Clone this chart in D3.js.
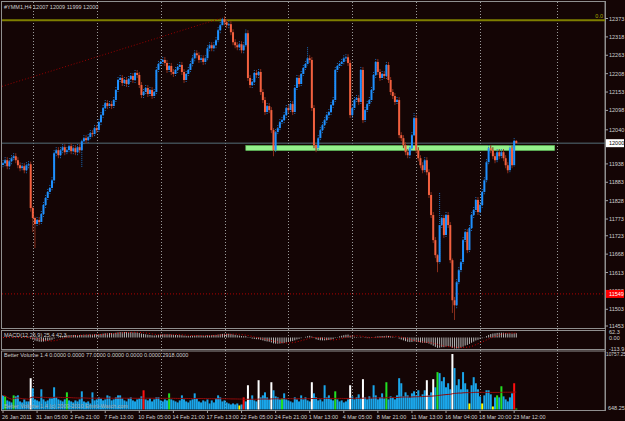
<!DOCTYPE html>
<html>
<head>
<meta charset="utf-8">
<script src="https://cdn.jsdelivr.net/npm/d3@7"></script>
<style>
  body { margin: 0; background: #140505; }
  svg { display: block; }
</style>
</head>
<body>
<script>
// H4 closes, #YMM1, 26 Jan 2011 -> 23 Mar 2011
const closes = [
  11940,11949,11931,11946,11955,11961,11949,11934,11925,11931,
  11919,11934,11937,11806,11776,11758,11770,11764,11788,11815,
  11836,11854,11866,11889,11970,11979,11964,11979,11988,11973,
  11979,11991,11976,11985,11973,11988,11979,12006,12015,12009,
  12018,12030,12027,12045,12039,12063,12084,12105,12120,12111,
  12117,12111,12129,12159,12189,12195,12180,12189,12177,12192,
  12201,12189,12210,12204,12174,12144,12153,12165,12147,12159,
  12141,12153,12219,12237,12243,12249,12240,12219,12231,12213,
  12207,12219,12228,12234,12213,12189,12207,12219,12237,12254,
  12269,12263,12249,12254,12243,12254,12284,12293,12284,12293,
  12308,12338,12353,12371,12362,12353,12356,12332,12302,12293,
  12287,12296,12278,12293,12329,12195,12174,12183,12210,12204,
  12213,12153,12129,12093,12111,12099,12039,11979,12033,12045,
  12063,12069,12084,12105,12099,12117,12093,12165,12195,12177,
  12207,12225,12237,12254,12249,12105,11994,11985,12015,12039,
  12054,12069,12084,12093,12114,12129,12219,12231,12237,12243,
  12254,12257,12240,12084,12105,12129,12135,12123,12219,12069,
  12099,12117,12129,12159,12204,12243,12213,12195,12207,12201,
  12234,12189,12153,12141,12123,12129,12024,12015,11994,11973,
  11964,11985,12024,12075,11979,11955,11934,11919,11949,11913,
  11845,11785,11710,11665,11644,11755,11776,11725,11785,11755,
  11650,11530,11515,11584,11620,11644,11710,11734,11680,11746,
  11785,11800,11830,11794,11815,11854,11889,11943,11985,11979,
  11961,11949,11973,11961,11973,11955,11934,11919,11985,11934,
  12007,12000
];
const firstOpen = 11935;

// bars whose wicks stick out: [bar, high, low]
const wicks = [
  [13, 11945, 11795], [14, 11810, 11734], [15, 11780, 11686], [37, 12010, 11928],
  [103, 12375, 12350], [114, 12340, 12288], [127, 12045, 11961], [143, 12287, 12232],
  [147, 11998, 11973], [193, 12090, 12018], [204, 11668, 11614], [205, 11851, 11640],
  [211, 11655, 11492], [212, 11540, 11471], [240, 12015, 11930], [241, 12009, 11999]
];

const volumes = [
  3225,3040,2305,2120,1935,3225,3040,3225,2120,1935,
  2490,2120,2120,6350,4510,2490,2305,2120,4330,2490,
  2120,2305,2670,2670,4695,2855,2490,2305,2120,2490,
  3775,2305,2120,1935,2305,2120,2490,3960,2120,1935,
  2120,1750,3775,2305,2490,2855,2670,2305,2490,3225,
  3040,2305,2490,2855,3225,3225,2670,2305,2120,2670,
  2855,2305,2120,2490,2670,3040,4145,2490,2305,2670,
  2120,2490,2855,2855,2305,2120,2490,2305,3590,2490,
  2305,2120,1935,2305,3225,2490,2120,1935,2305,2490,
  3590,2670,2120,1935,2305,2120,2490,1750,2305,1935,
  2670,3225,2855,2120,2305,1935,1750,1570,1750,1570,
  1750,1385,1570,2855,2120,5065,2490,3225,2305,2120,
  5985,2855,3225,3775,2855,2490,5615,4145,3040,2855,
  2490,2670,3590,2490,2305,2120,1935,2855,2490,2120,
  3225,2490,2855,2305,2120,5615,3590,2855,2305,2490,
  2120,5065,2855,3225,2490,2305,3960,2490,2120,2305,
  1935,2120,2490,5065,3040,2490,2855,3410,2670,6170,
  2855,2490,3040,2670,5065,3225,2490,2855,3590,2670,
  5615,2490,3040,2855,2490,3225,6350,5430,3040,3775,
  3225,2855,3590,3960,3225,4145,3040,3410,4145,5985,
  3225,3775,6170,4695,7455,7270,5800,6535,4695,5430,
  4330,10755,8190,5065,6170,4330,7455,5430,4330,1750,
  5065,6535,5430,4330,3040,1750,3225,4145,4145,3410,
  1200,2855,3225,2855,4880,3040,2490,2120,2855,3590,
  5430,830
];
// Better Volume colouring of the non-default bars
const volGreen = [1, 5, 30, 78, 131, 156, 180, 204, 232, 234, 241];
const volWhite = [13, 115, 120, 126, 145, 163, 169, 199, 202, 211];
const volRed = [66, 113, 240];
const volYellow = [111, 219, 225, 230];

const timeLabels = ["26 Jan 2011", "31 Jan 05:00", "2 Feb 21:00", "7 Feb 13:00", "10 Feb 05:00",
  "14 Feb 21:00", "17 Feb 13:00", "22 Feb 05:00", "24 Feb 21:00", "1 Mar 13:00", "4 Mar 05:00",
  "8 Mar 21:00", "11 Mar 13:00", "16 Mar 04:00", "18 Mar 20:00", "23 Mar 12:00"];
const timeLabelBars = [0, 16, 32, 48, 64, 80, 96, 112, 128, 144, 160, 176, 192, 208, 224, 240];
const gridBars = [14, 44, 74, 104, 134, 164, 194, 224, 260];
const priceTicks = [12373, 12318, 12263, 12208, 12153, 12098, 12040, 11938, 11883, 11828,
  11773, 11723, 11668, 11613, 11558, 11503, 11453];

const fibLevel = 12368;
const fibLine = [[-1, 12170], [103, 12375]];
const zone = { from: 114, to: 259, top: 11993, bottom: 11978 };
const alertLevel = 11549;
const lastPrice = 12000;

const macdTicks = [["62.3", 62.3], ["0.00", 0], ["-113.9", -113.9]];
const volTicks = ["10757.25", "648.25"];

// ---------------------------------------------------------------
const W = 625, H = 421;
const font = "'Liberation Sans', Arial, sans-serif";
const left = 2, right = 605;

const svg = d3.select("body").append("svg")
  .attr("width", W).attr("height", H)
  .style("background", "#140505");

const x = d3.scaleLinear().domain([0, 241]).range([3, 516.3]);
const y = d3.scaleLinear().domain([11453, 12373]).range([326, 18.5]);
const yMacd = d3.scaleLinear().domain([-113.9, 62.3]).range([348.5, 331.5]).clamp(true);
const yVol = d3.scaleLinear().domain([648.25, 10757.25]).range([409.5, 354]);

// pane frames
const panes = [[1.5, 328.5], [330.5, 349.5], [351, 410.5]];
svg.selectAll("rect.pane").data(panes).enter().append("rect")
  .attr("x", 1.5).attr("y", d => d[0])
  .attr("width", right - 1.5).attr("height", d => d[1] - d[0])
  .attr("fill", "none").attr("stroke", "#8f8f8f").attr("stroke-width", 1);

// vertical grid
svg.selectAll("line.grid").data(gridBars).enter().append("line")
  .attr("x1", d => Math.round(x(d)) + 0.5).attr("x2", d => Math.round(x(d)) + 0.5)
  .attr("y1", 2).attr("y2", 410)
  .attr("stroke", "#9a9a9a").attr("stroke-width", 1).attr("stroke-dasharray", "1,2");

// horizontal reference lines in the main pane
svg.append("line")
  .attr("x1", left).attr("x2", right).attr("y1", y(lastPrice)).attr("y2", y(lastPrice))
  .attr("stroke", "#56707a").attr("stroke-width", 1);
svg.append("line")
  .attr("x1", left).attr("x2", right).attr("y1", y(alertLevel)).attr("y2", y(alertLevel))
  .attr("stroke", "#b00000").attr("stroke-width", 1).attr("stroke-dasharray", "1,2");
svg.append("line")
  .attr("x1", left).attr("x2", right).attr("y1", y(fibLevel)).attr("y2", y(fibLevel))
  .attr("stroke", "#7f7f00").attr("stroke-width", 2);
svg.append("text")
  .attr("x", 603).attr("y", y(fibLevel) - 2).attr("text-anchor", "end")
  .attr("font-family", font).attr("font-size", "5.5px").attr("fill", "#a8a800")
  .text("0.0");
svg.append("line")
  .attr("x1", Math.max(left, x(fibLine[0][0]))).attr("y1", y(fibLine[0][1]))
  .attr("x2", x(fibLine[1][0])).attr("y2", y(fibLine[1][1]))
  .attr("stroke", "#9a0000").attr("stroke-width", 1).attr("stroke-dasharray", "1,2");

// support zone rectangle
svg.append("rect")
  .attr("x", x(zone.from)).attr("y", y(zone.top))
  .attr("width", x(zone.to) - x(zone.from)).attr("height", y(zone.bottom) - y(zone.top))
  .attr("fill", "#94f08c").attr("stroke", "#5ec25a").attr("stroke-width", 0.6);

// candles
const wickMap = new Map(wicks.map(w => [w[0], [w[1], w[2]]]));
const bars = closes.map((c, i) => {
  const o = i === 0 ? firstOpen : closes[i - 1];
  const w = wickMap.get(i);
  return { i, o, c,
    hi: w ? w[0] : Math.max(o, c) + 9,
    lo: w ? w[1] : Math.min(o, c) - 9 };
});
const up = d => d.c >= d.o;

svg.append("g").selectAll("line").data(bars).enter().append("line")
  .attr("x1", d => x(d.i)).attr("x2", d => x(d.i))
  .attr("y1", d => y(d.hi)).attr("y2", d => y(d.lo))
  .attr("stroke", d => up(d) ? "#1a6fc0" : "#8a2e1c")
  .attr("stroke-width", 1)
  .attr("stroke-dasharray", d => up(d) ? "1,1" : null);

svg.append("g").selectAll("rect").data(bars).enter().append("rect")
  .attr("x", d => x(d.i) - 1).attr("width", 2)
  .attr("y", d => y(Math.max(d.o, d.c)))
  .attr("height", d => Math.max(1, Math.abs(y(d.o) - y(d.c))))
  .attr("fill", d => up(d) ? "#1e90ff" : "#f2603f");

// MACD(12,26,9): histogram of the main line + SMA signal
const ema = (arr, n) => {
  const k = 2 / (n + 1);
  let e = arr[0];
  return arr.map((v, i) => (i === 0 ? e : (e = v * k + e * (1 - k))));
};
const e12 = ema(closes, 12), e26 = ema(closes, 26);
const macd = closes.map((_, i) => e12[i] - e26[i]);
const signal = macd.map((_, i) => d3.mean(macd.slice(Math.max(0, i - 8), i + 1)));

svg.append("g").selectAll("line").data(macd).enter().append("line")
  .attr("x1", (d, i) => x(i)).attr("x2", (d, i) => x(i))
  .attr("y1", yMacd(0)).attr("y2", d => yMacd(d))
  .attr("stroke", "#b4b4b4").attr("stroke-width", 1);
svg.append("path")
  .datum(signal)
  .attr("fill", "none").attr("stroke", "#d00000").attr("stroke-width", 1)
  .attr("stroke-dasharray", "1,2")
  .attr("d", d3.line().x((d, i) => x(i)).y(d => yMacd(d)));

// Better Volume
const volColor = i =>
  volWhite.includes(i) ? "#ffffff" :
  volGreen.includes(i) ? "#22e022" :
  volRed.includes(i) ? "#ff1010" :
  volYellow.includes(i) ? "#ffff00" : "#1aa6ea";

svg.append("g").selectAll("rect").data(volumes).enter().append("rect")
  .attr("x", (d, i) => x(i) - 1).attr("width", 2)
  .attr("y", d => yVol(d))
  .attr("height", d => yVol(648.25) - yVol(d))
  .attr("fill", (d, i) => volColor(i));

const volAvg = volumes.map((_, i) => d3.mean(volumes.slice(Math.max(0, i - 99), i + 1)));
svg.append("path")
  .datum(volAvg)
  .attr("fill", "none").attr("stroke", "#8e0a0a").attr("stroke-width", 1)
  .attr("d", d3.line().x((d, i) => x(i)).y(d => yVol(d)));

// texts in panes
const label = (tx, ty, t, fill, size) => svg.append("text")
  .attr("x", tx).attr("y", ty)
  .attr("font-family", font).attr("font-size", size || "5.5px")
  .attr("fill", fill || "#d0d0d0").text(t);

label(4, 9, "#YMM1,H4  12007 12009 11999 12000");
label(4, 337, "MACD(12,26,9) 25.4 42.3");
label(4, 356.5, "Better Volume 1.4 0.0000 0.0000 77.0000 0.0000 0.0000 0.0000 2918.0000");
label(4, 407.5, "Better Volume 1.4 (c) 2009-2010 Emini-Watch.com", "#a8a8a8");

// price axis
svg.append("line").attr("x1", right + 0.5).attr("x2", right + 0.5).attr("y1", 1).attr("y2", 411)
  .attr("stroke", "#8f8f8f");
svg.append("g").selectAll("line").data(priceTicks).enter().append("line")
  .attr("x1", right).attr("x2", right + 3)
  .attr("y1", d => y(d)).attr("y2", d => y(d)).attr("stroke", "#a0a0a0");
svg.append("g").selectAll("text").data(priceTicks).enter().append("text")
  .attr("x", 609).attr("y", d => y(d) + 2)
  .attr("font-family", font).attr("font-size", "5.5px").attr("fill", "#d0d0d0")
  .text(d => d);

// price boxes
const box = (price, bg, fg) => {
  svg.append("rect").attr("x", 606).attr("y", y(price) - 4).attr("width", 18).attr("height", 8)
    .attr("fill", bg);
  svg.append("text").attr("x", 609).attr("y", y(price) + 2)
    .attr("font-family", font).attr("font-size", "5.5px").attr("fill", fg).text(price);
};
box(lastPrice, "#ffffff", "#000000");
box(alertLevel, "#ff0000", "#ffffff");

// macd + volume axis
macdTicks.forEach(t => label(609, yMacd(t[1]) + 2, t[0]));
label(606, 356, volTicks[0], null, "4.8px");
label(608, 410, volTicks[1]);

// time axis
svg.append("g").selectAll("line").data(timeLabelBars).enter().append("line")
  .attr("x1", d => x(d)).attr("x2", d => x(d)).attr("y1", 410.5).attr("y2", 413)
  .attr("stroke", "#a0a0a0");
svg.append("g").selectAll("text").data(timeLabels).enter().append("text")
  .attr("x", (d, i) => Math.max(2, x(timeLabelBars[i]) - 1)).attr("y", 418.5)
  .attr("font-family", font).attr("font-size", "5.5px").attr("fill", "#d0d0d0")
  .text(d => d);
</script>
</body>
</html>
